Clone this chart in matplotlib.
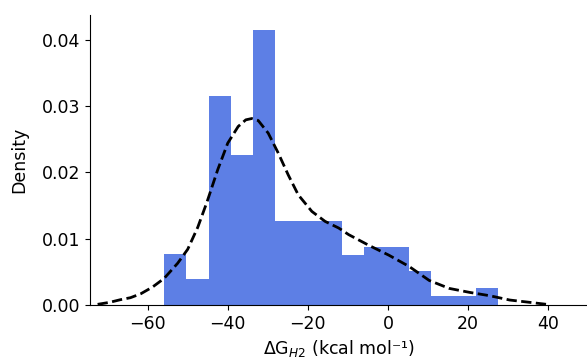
import matplotlib
matplotlib.use("Agg")
import matplotlib.pyplot as plt
import numpy as np

# Histogram (density)
bin_left = -55.9
bin_width = 5.56
bar_heights = [0.0077, 0.0039, 0.0315, 0.0226, 0.0415, 0.0126, 0.0126, 0.0126,
               0.0076, 0.0088, 0.0088, 0.0051, 0.0013, 0.0013, 0.0025]

# KDE curve points
kde_x = [-72.5, -69.5, -66.8, -64.3, -61.7, -58.8, -55.9, -52.5, -50.0, -47.5, -45.2,
         -42.5, -40.0, -37.4, -35.5, -34.0, -32.4, -29.9, -27.4, -24.9,
         -22.4, -19.0, -15.7, -12.3, -9.8, -4.8, 0.25, 5.3, 10.3, 15.3,
         20.4, 25.4, 30.4, 35.4, 39.6]
kde_y = [0.0001, 0.0004, 0.0008, 0.0011, 0.0017, 0.0027, 0.0040, 0.0063, 0.0084, 0.0117, 0.0155,
         0.0204, 0.0244, 0.0269, 0.0279, 0.0281, 0.0278, 0.0259, 0.0229, 0.0196,
         0.0166, 0.0141, 0.0126, 0.0116, 0.0106, 0.0090, 0.0075, 0.0058, 0.0037, 0.0025,
         0.0019, 0.0014, 0.00075, 0.0004, 0.0001]

x_ticks = [-60, -40, -20, 0, 20, 40]
y_ticks = [0.00, 0.01, 0.02, 0.03, 0.04]

fig = plt.figure(figsize=(5.87, 3.6), dpi=100)
ax = fig.add_axes([90/587, 55/360, 1 - 90/587, 290/360])

lefts = [bin_left + i * bin_width for i in range(len(bar_heights))]
ax.bar(lefts, bar_heights, width=bin_width, align='edge',
       color='royalblue', alpha=0.85, linewidth=0)
ax.plot(kde_x, kde_y, color='black', linestyle='--', linewidth=2)

ax.set_xlim(-74.4, 49.7)
ax.set_ylim(0, 0.0437)
ax.set_xticks(x_ticks)
ax.set_yticks(y_ticks)
ax.set_yticklabels([f"{v:.2f}" for v in y_ticks])
ax.tick_params(labelsize=12.5)
ax.spines['top'].set_visible(False)
ax.spines['right'].set_visible(False)
ax.set_ylabel('Density', fontsize=12.5, labelpad=10)
ax.set_xlabel(r'ΔG$_{H2}$ (kcal mol⁻¹)', fontsize=12.5, labelpad=4)

fig.savefig('out.png', dpi=100)
